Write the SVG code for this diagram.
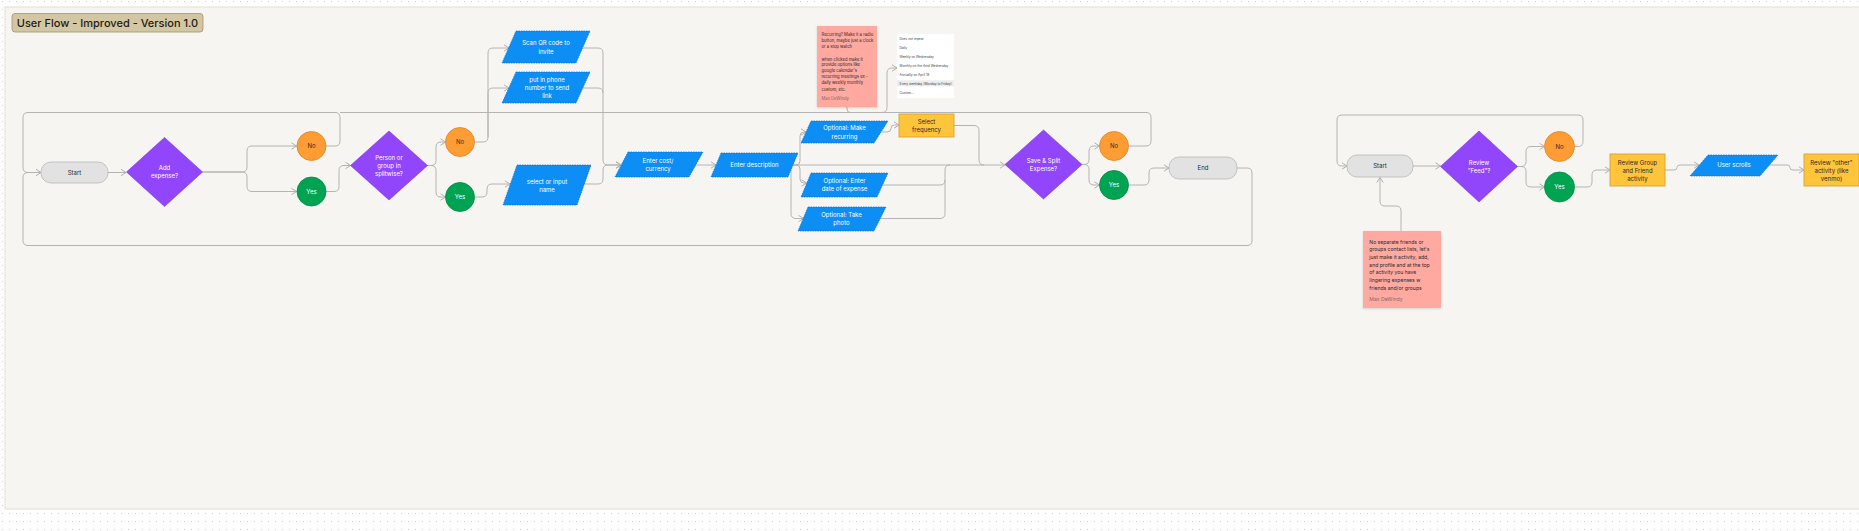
<svg xmlns="http://www.w3.org/2000/svg" width="1859" height="531" viewBox="0 0 1859 531">
<defs>
<pattern id="dots" x="0" y="1" width="7" height="8" patternUnits="userSpaceOnUse">
<rect x="2" y="0" width="1" height="1" fill="#cfcfcf"/>
</pattern>
<marker id="arr" viewBox="0 0 6 8" refX="5.5" refY="4" markerWidth="6" markerHeight="8" markerUnits="userSpaceOnUse" orient="auto">
<path d="M0.5,0.8 L5.5,4 L0.5,7.2" fill="none" stroke="#b0b0b0" stroke-width="1"/>
</marker>
<filter id="sh" x="-10%" y="-10%" width="130%" height="130%">
<feDropShadow dx="0" dy="1" stdDeviation="0.8" flood-color="#000" flood-opacity="0.15"/>
</filter>
</defs>
<style>
text{font-family:Inter,"Noto Sans","Liberation Sans",sans-serif;}
.t{font-size:6px;text-anchor:middle;}
.w{fill:#ffffff;}
.d{fill:#2a2a2a;}
.dia{fill:#9146fb;stroke:#7e33e6;stroke-width:0.6;}
.no{fill:#ff9c33;stroke:#dd8424;stroke-width:0.8;}
.yes{fill:#00a352;stroke:#008a45;stroke-width:0.8;}
.par{fill:#0d8ef5;stroke:#0a6fd0;stroke-width:0.7;stroke-dasharray:1.5 1;}
.term{fill:#e2e2e2;stroke:#b9b9b9;stroke-width:0.8;}
.yel{fill:#fec43a;stroke:#dba33a;stroke-width:0.9;}
.note{fill:#ffa9a1;}
.c{fill:none;stroke:#b4b4b4;stroke-width:1;}
.ca{fill:none;stroke:#b4b4b4;stroke-width:1;marker-end:url(#arr);}
.n1{font-size:4.2px;fill:#2a2a2a;}
.n2{font-size:5.1px;fill:#2a2a2a;}
.dd{font-size:3.2px;fill:#444;}
.auth{fill:#8a6a66;}
</style>
<rect x="0" y="0" width="1859" height="531" fill="#ffffff"/>
<rect x="0" y="0" width="1859" height="531" fill="url(#dots)"/>
<rect id="frame" x="5" y="7" width="1870" height="502" fill="#f6f5f1" stroke="#e4dfd0" stroke-width="1"/>

<g id="title">
<rect x="12" y="13.5" width="191" height="18.5" rx="3" fill="#d3c6a3" stroke="#a3946f" stroke-width="0.8"/>
<text x="107.5" y="26.6" font-size="11" font-weight="500" text-anchor="middle" fill="#1f1b14">User Flow - Improved - Version 1.0</text>
</g>

<g id="connectors">
<path class="ca" d="M108,172.5 H126"/>
<path class="ca" d="M202.5,172 H242 Q247,172 247,167 V151 Q247,146 252,146 H296.5"/>
<path class="ca" d="M202.5,172 H242 Q247,172 247,177 V186.5 Q247,191.5 252,191.5 H296.5"/>
<path class="c" d="M326,146 H335 Q340,146 340,141 V117.5 Q340,112.5 335,112.5 H28 Q23,112.5 23,117.5 V167.5 Q23,172.5 28,172.5 H35"/>
<path class="ca" d="M326,191.5 H334 Q339,191.5 339,186.5 V170.5 Q339,165.5 344,165.5 H350.5"/>
<path class="ca" d="M427.5,165.5 H431 Q436,165.5 436,160.5 V147 Q436,142 441,142 H445.5"/>
<path class="ca" d="M427.5,165.5 H431 Q436,165.5 436,170.5 V192 Q436,197 441,197 H445.5"/>
<path class="ca" d="M474.5,142 H483 Q488,142 488,137 V53 Q488,48 493,48 H509"/>
<path class="ca" d="M488,137 V93 Q488,88 493,88 H509"/>
<path class="ca" d="M474.5,197 H482 Q487,197 487,192 V189 Q487,184 492,184 H510"/>
<path class="c" d="M583,48 H598 Q603,48 603,53 V160"/>
<path class="c" d="M583,88 H598 Q603,88 603,93"/>
<path class="ca" d="M584,184 H598 Q603,184 603,179 V170 Q603,165 608,165 H621"/>
<path class="ca" d="M603,160 Q603,165 608,165 H621"/>
<path class="ca" d="M696,165 H716"/>
<path class="ca" d="M793,165 H1005"/>
<path class="ca" d="M793,165 H796 Q800,165 800,161 V136 Q800,132 804,132 H806"/>
<path class="ca" d="M793,165 H796 Q800,165 800,169 V179 Q800,183 804,183 H806.5"/>
<path class="ca" d="M791,170 V213.5 Q791,218.5 796,218.5 H803.5"/>
<path class="ca" d="M881.5,132 H887 Q891,132 891,128.5 Q891,125 894.5,125 H899"/>
<path class="c" d="M954,125.5 H974 Q979,125.5 979,130.5 V160 Q979,165 984,165"/>
<path class="c" d="M882.5,185 H940 Q945,185 945,180 V170 Q945,165 950,165"/>
<path class="c" d="M880.5,218.5 H940 Q945,218.5 945,213.5 V180"/>
<path class="ca" d="M1082,164.5 H1084 Q1089,164.5 1089,159.5 V151 Q1089,146 1094,146 H1099.5"/>
<path class="ca" d="M1082,164.5 H1084 Q1089,164.5 1089,169.5 V180 Q1089,185 1094,185 H1099.5"/>
<path class="c" d="M1128.5,146 H1146 Q1151,146 1151,141 V117.5 Q1151,112.5 1146,112.5 H340"/>
<path class="ca" d="M1128.5,185 H1144 Q1149,185 1149,180 V173 Q1149,168 1154,168 H1169"/>
<path class="ca" d="M1237,168 H1247 Q1252,168 1252,173 V240.5 Q1252,245.5 1247,245.5 H28 Q23,245.5 23,240.5 V177.5 Q23,172.5 28,172.5 H41"/>
<path class="ca" d="M847,107 V109 Q847,112.5 850.5,112.5 H882 Q887,112.5 887,107.5 V73 Q887,68 892,68 H897"/>
<path class="ca" d="M1574.5,146.5 H1578 Q1583,146.5 1583,141.5 V120 Q1583,115 1578,115 H1342 Q1337,115 1337,120 V161 Q1337,166 1342,166 H1347"/>
<path class="ca" d="M1413,166 H1440.5"/>
<path class="ca" d="M1517.5,166.5 H1521 Q1526,166.5 1526,161.5 V151.5 Q1526,146.5 1531,146.5 H1544.5"/>
<path class="ca" d="M1517.5,166.5 H1521 Q1526,166.5 1526,171.5 V182 Q1526,187 1531,187 H1544.5"/>
<path class="ca" d="M1574.5,187 H1587 Q1592,187 1592,182 V175 Q1592,170 1597,170 H1610"/>
<path class="ca" d="M1665,170 H1674 Q1677,170 1677,167.5 Q1677,165 1680,165 H1699"/>
<path class="ca" d="M1769,165 H1787 Q1790,165 1790,167.5 Q1790,170 1793,170 H1804"/>
<path class="c" d="M1859,170 H1870"/>
<path class="ca" d="M1401,231 V211 Q1401,206 1396,206 H1385 Q1380,206 1380,201 V177.5"/>
</g>

<g id="start"><rect class="term" x="41" y="162" width="67" height="21" rx="10"/><text class="t d" x="74.5" y="174.6">Start</text></g>
<g id="add-expense"><polygon class="dia" points="126.5,172 164.5,137.5 202.5,172 164.5,206.5"/><text class="t w" x="164.5" y="170">Add</text><text class="t w" x="164.5" y="178">expense?</text></g>
<g id="no1"><circle class="no" cx="311.5" cy="146" r="14.5"/><text class="t d" x="311.5" y="148.2">No</text></g>
<g id="yes1"><circle class="yes" cx="311.5" cy="191.5" r="14.5"/><text class="t w" x="311.5" y="193.7">Yes</text></g>
<g id="person-group"><polygon class="dia" points="350.5,165.5 389,131 427.5,165.5 389,200"/><text class="t w" x="389" y="159.6">Person or</text><text class="t w" x="389" y="167.6">group in</text><text class="t w" x="389" y="175.6">splitwise?</text></g>
<g id="no2"><circle class="no" cx="460" cy="142" r="14.5"/><text class="t d" x="460" y="144.2">No</text></g>
<g id="yes2"><circle class="yes" cx="460" cy="197" r="14.5"/><text class="t w" x="460" y="199.2">Yes</text></g>
<g id="scan-qr"><polygon class="par" points="516,31 590,31 576,63 502,63"/><text class="t w" x="546" y="45.3">Scan QR code to</text><text class="t w" x="546" y="53.5">invite</text></g>
<g id="phone"><polygon class="par" points="516,72 590,72 576,103 502,103"/><text class="t w" x="547" y="82">put in phone</text><text class="t w" x="547" y="90">number to send</text><text class="t w" x="547" y="98">link</text></g>
<g id="select-name"><polygon class="par" points="517,165 591,165 577,205 503,205"/><text class="t w" x="547" y="183.5">select or input</text><text class="t w" x="547" y="191.8">name</text></g>
<g id="enter-cost"><polygon class="par" points="628,152 703,152 689,177 615,177"/><text class="t w" x="658" y="163">Enter cost/</text><text class="t w" x="658" y="171.3">currency</text></g>
<g id="enter-desc"><polygon class="par" points="721,153 798,153 788,177 711,177"/><text class="t w" x="754.5" y="167">Enter description</text></g>
<g id="opt-recurring"><polygon class="par" points="811,121 888,121 874,143 801,143"/><text class="t w" x="844.5" y="130.3">Optional: Make</text><text class="t w" x="844.5" y="138.6">recurring</text></g>
<g id="opt-date"><polygon class="par" points="811,173 888,173 877,197 801,197"/><text class="t w" x="844.5" y="183">Optional: Enter</text><text class="t w" x="844.5" y="191.3">date of expense</text></g>
<g id="opt-photo"><polygon class="par" points="808,207 886,207 874,231 798,231"/><text class="t w" x="841.5" y="217">Optional: Take</text><text class="t w" x="841.5" y="225.3">photo</text></g>
<g id="select-frequency"><rect class="yel" x="899" y="114" width="55" height="23"/><text class="t d" x="926.5" y="123.7">Select</text><text class="t d" x="926.5" y="132">frequency</text></g>
<g id="note-recurring">
<rect class="note" x="817" y="26" width="60" height="81" filter="url(#sh)"/>
<text class="n1" x="821.5" y="36.2">Recurring? Make it a radio</text>
<text class="n1" x="821.5" y="42.2">button, maybe just a clock</text>
<text class="n1" x="821.5" y="48.2">or a stop watch</text>
<text class="n1" x="821.5" y="60.5">when clicked make it</text>
<text class="n1" x="821.5" y="66.3">provide options like</text>
<text class="n1" x="821.5" y="72.2">google calendar's</text>
<text class="n1" x="821.5" y="78.2">recurring meetings ex -</text>
<text class="n1" x="821.5" y="84.2">daily weekly monthly</text>
<text class="n1" x="821.5" y="91">custom, etc.</text>
<text class="n1 auth" x="821.5" y="99.5" font-size="3.4">Max DeWindy</text>
</g>
<g id="dropdown">
<rect x="897" y="34" width="57" height="64" fill="#ffffff"/>
<rect x="897" y="80.3" width="57" height="6" fill="#ececec"/>
<text class="dd" x="899.5" y="39.5">Does not repeat</text>
<text class="dd" x="899.5" y="48.5">Daily</text>
<text class="dd" x="899.5" y="57.5">Weekly on Wednesday</text>
<text class="dd" x="899.5" y="66.5">Monthly on the third Wednesday</text>
<text class="dd" x="899.5" y="75.5">Annually on April 19</text>
<text class="dd" x="899.5" y="84.5">Every weekday (Monday to Friday)</text>
<text class="dd" x="899.5" y="93.8">Custom...</text>
</g>
<g id="save-split"><polygon class="dia" points="1005,164.5 1043.5,130 1082,164.5 1043.5,199"/><text class="t w" x="1043.5" y="163">Save  &amp; Split</text><text class="t w" x="1043.5" y="171.3">Expense?</text></g>
<g id="no3"><circle class="no" cx="1114" cy="146" r="14.5"/><text class="t d" x="1114" y="148.2">No</text></g>
<g id="yes3"><circle class="yes" cx="1114" cy="185" r="14.5"/><text class="t w" x="1114" y="187.2">Yes</text></g>
<g id="end"><rect class="term" x="1169" y="157" width="68" height="22" rx="10"/><text class="t d" x="1203" y="170.2">End</text></g>

<g id="start2"><rect class="term" x="1347" y="155" width="66" height="22" rx="10"/><text class="t d" x="1380" y="168.2">Start</text></g>
<g id="review-feed"><polygon class="dia" points="1440.5,166.5 1479,131 1517.5,166.5 1479,202"/><text class="t w" x="1479" y="164.8">Review</text><text class="t w" x="1479" y="173.3">"Feed"?</text></g>
<g id="no4"><circle class="no" cx="1559.5" cy="146.5" r="15"/><text class="t d" x="1559.5" y="148.7">No</text></g>
<g id="yes4"><circle class="yes" cx="1559.5" cy="187" r="15"/><text class="t w" x="1559.5" y="189.2">Yes</text></g>
<g id="review-group"><rect class="yel" x="1610" y="154" width="55" height="32"/><text class="t d" x="1637.5" y="164.5">Review Group</text><text class="t d" x="1637.5" y="172.5">and Friend</text><text class="t d" x="1637.5" y="180.6">activity</text></g>
<g id="user-scrolls"><polygon class="par" points="1708,155 1778,155 1760,176 1690,176"/><text class="t w" x="1734" y="167.3">User scrolls</text></g>
<g id="review-other"><rect class="yel" x="1804" y="154" width="55" height="32"/><text class="t d" x="1831.5" y="164.5">Review "other"</text><text class="t d" x="1831.5" y="172.5">activity (like</text><text class="t d" x="1831.5" y="180.6">venmo)</text></g>
<g id="note-feed">
<rect class="note" x="1363" y="231" width="78" height="77" filter="url(#sh)"/>
<text class="n2" x="1369.3" y="243.5">No  separate friends or</text>
<text class="n2" x="1369.3" y="251.2">groups contact lists, let's</text>
<text class="n2" x="1369.3" y="258.9">just make it activity, add,</text>
<text class="n2" x="1369.3" y="266.6">and profile and at the top</text>
<text class="n2" x="1369.3" y="274.2">of activity you have</text>
<text class="n2" x="1369.3" y="281.9">lingering expenses w</text>
<text class="n2" x="1369.3" y="289.6">friends and/or groups</text>
<text class="n2 auth" x="1369.3" y="300.6" font-size="3.6">Max DeWindy</text>
</g>
</svg>
